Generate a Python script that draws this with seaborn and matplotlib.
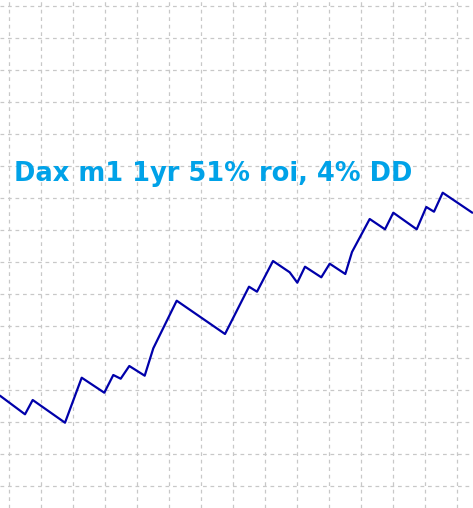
import matplotlib
matplotlib.use("Agg")
import matplotlib.pyplot as plt
import numpy as np
import pandas as pd
import seaborn as sns

# equity curve (x: time units, y: balance units, 1 grid cell = 1 unit)
time_px = [0, 25, 32.7, 65, 81.7, 104.3, 113.3, 120.7, 129.3, 144.7, 153.3, 176.7,
           225, 249, 257, 273, 289.7, 297.3, 305, 321.3, 329.7, 345.3, 352, 369.7,
           385, 393.3, 416.7, 426.3, 434, 442.7, 472.3]
equity_px = [395.7, 414.3, 400, 422.7, 377.7, 392.7, 375, 378.7, 366, 375.7, 348.3, 300.7,
             334, 286.7, 291.7, 261, 272.3, 282.7, 266.7, 277.3, 263.7, 274, 252, 219,
             229.3, 212.7, 229.3, 207, 211.7, 192.7, 212.7]

time = (np.array(time_px) - 8.5) / 32
equity = (486 - np.array(equity_px)) / 32
df = pd.DataFrame({"time": time, "equity": equity})

title = "Dax m1 1yr 51% roi, 4% DD"

sns.set_style("white")
plt.rcParams['font.family'] = ['DejaVu Sans']

fig = plt.figure(figsize=(4.73, 5.08), dpi=100)
ax = fig.add_axes([0, 0, 1, 1])

sns.lineplot(data=df, x="time", y="equity", color="#0000AA", linewidth=1.6, ax=ax)

ax.set_xlim(-8.5 / 32, (473 - 8.5) / 32)
ax.set_ylim((486 - 508) / 32, 486 / 32)
ax.set_xticks(np.arange(0, 15))
ax.set_yticks(np.arange(0, 16))
ax.grid(True, color="#C8C8C8", linestyle=(0, (3, 3)), linewidth=0.9)
ax.set_axisbelow(True)
ax.tick_params(length=0, labelbottom=False, labelleft=False)
ax.set_xlabel("")
ax.set_ylabel("")
for s in ax.spines.values():
    s.set_visible(False)

txt = ax.text(14 / 473, 1 - 181 / 508, title, transform=ax.transAxes, fontsize=19,
              fontweight="bold", color="#00A2E8", ha="left", va="baseline")

# fit the title width to the reference (~398 px)
fig.canvas.draw()
w = txt.get_window_extent().width
txt.set_fontsize(19 * 398 / w)

fig.savefig("out.png", dpi=100)
